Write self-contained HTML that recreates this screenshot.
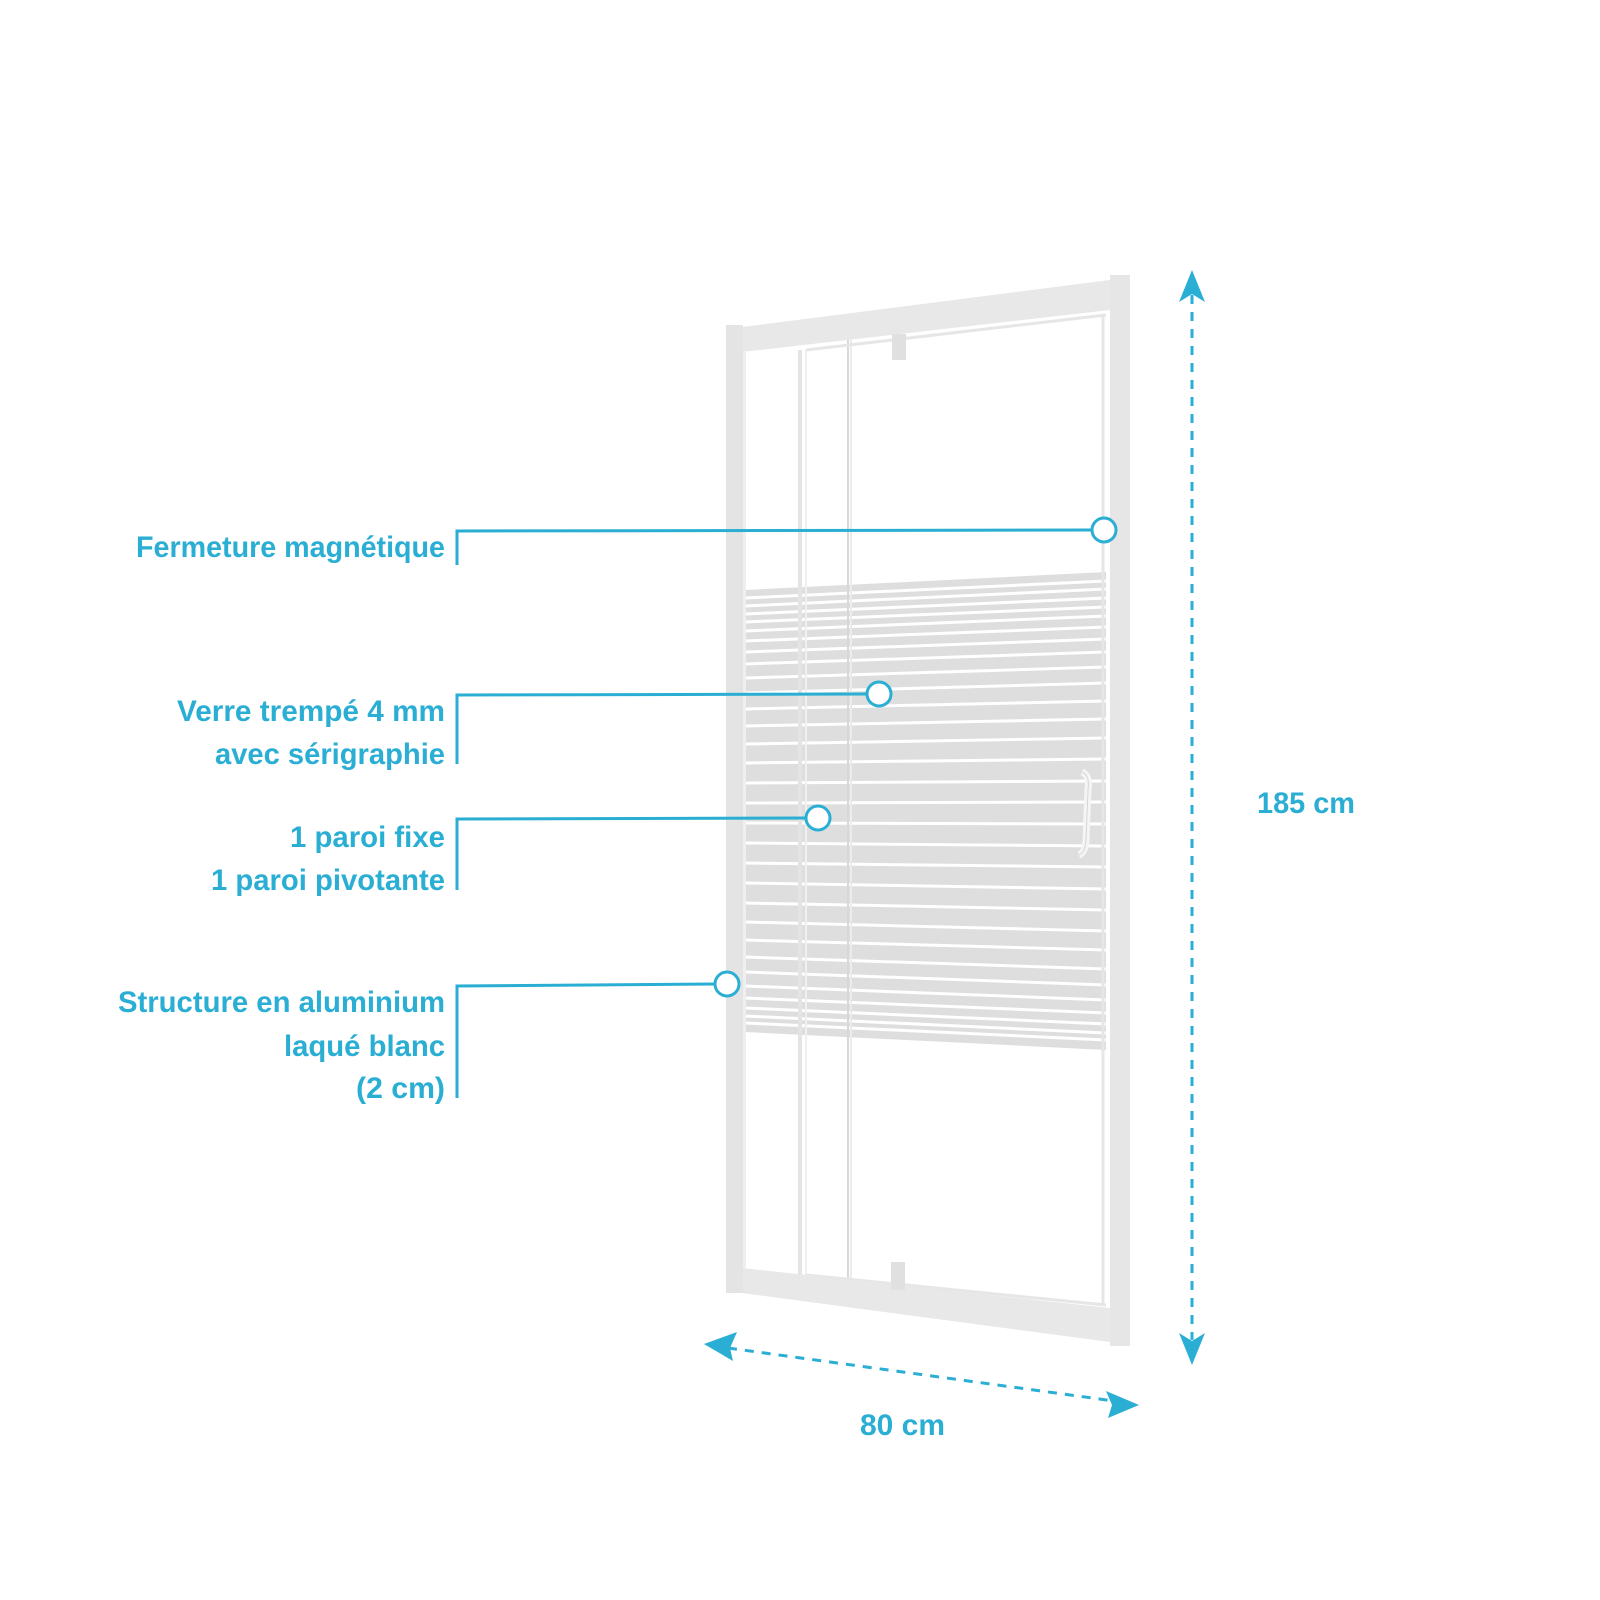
<!DOCTYPE html>
<html><head><meta charset="utf-8"><style>
html,body{margin:0;padding:0;background:#fff;}
svg{display:block;}
text{font-family:"Liberation Sans Narrow","Liberation Sans",sans-serif;fill:#2aaed3;font-size:30px;font-weight:bold;}
</style></head><body>
<svg width="1600" height="1600" viewBox="0 0 1600 1600" xmlns="http://www.w3.org/2000/svg">
<!-- glass band -->
<polygon points="745,590 1106,572 1106,1050 745,1032" fill="#dedede"/>
<g stroke="#fff" stroke-width="3">
<line x1="745" y1="598" x2="1106" y2="581"/><line x1="745" y1="606" x2="1106" y2="589"/>
<line x1="745" y1="614" x2="1106" y2="598"/><line x1="745" y1="622" x2="1106" y2="607"/>
<line x1="745" y1="631" x2="1106" y2="616"/><line x1="745" y1="641" x2="1106" y2="627"/>
<line x1="745" y1="652" x2="1106" y2="639"/><line x1="745" y1="664" x2="1106" y2="652"/>
<line x1="745" y1="678" x2="1106" y2="667"/><line x1="745" y1="693" x2="1106" y2="683"/>
<line x1="745" y1="709" x2="1106" y2="701"/><line x1="745" y1="726" x2="1106" y2="719"/>
<line x1="745" y1="744" x2="1106" y2="738"/><line x1="745" y1="763" x2="1106" y2="759"/>
<line x1="745" y1="783" x2="1106" y2="781"/><line x1="745" y1="803" x2="1106" y2="802"/>
<line x1="745" y1="823" x2="1106" y2="824"/><line x1="745" y1="843" x2="1106" y2="846"/>
<line x1="745" y1="863" x2="1106" y2="867"/><line x1="745" y1="883" x2="1106" y2="889"/>
<line x1="745" y1="903" x2="1106" y2="910"/><line x1="745" y1="922" x2="1106" y2="931"/>
<line x1="745" y1="940" x2="1106" y2="950"/><line x1="745" y1="957" x2="1106" y2="969"/>
<line x1="745" y1="972" x2="1106" y2="985"/><line x1="745" y1="986" x2="1106" y2="1000"/>
<line x1="745" y1="998" x2="1106" y2="1013"/><line x1="745" y1="1008" x2="1106" y2="1024"/>
<line x1="745" y1="1016" x2="1106" y2="1033"/><line x1="745" y1="1023" x2="1106" y2="1040"/>
</g>
<!-- inner panel lines -->
<line x1="800" y1="350" x2="800" y2="1285" stroke="#e4e4e4" stroke-width="4"/>
<line x1="806" y1="350" x2="806" y2="1285" stroke="#f0f0f0" stroke-width="2"/>
<line x1="848" y1="335" x2="848" y2="1295" stroke="#d8d8d8" stroke-width="2"/>
<line x1="851" y1="335" x2="851" y2="1295" stroke="#ececec" stroke-width="2"/>
<line x1="806" y1="350" x2="1106" y2="315" stroke="#e6e6e6" stroke-width="3"/>
<line x1="806" y1="1275" x2="1106" y2="1305" stroke="#e6e6e6" stroke-width="3"/>
<line x1="1103" y1="315" x2="1103" y2="1305" stroke="#e6e6e6" stroke-width="3"/>
<!-- frame -->
<polygon points="742,327 1110,280 1110,310 742,352" fill="#e8e8e8"/>
<polygon points="742,1268 1110,1308 1110,1342 742,1293" fill="#e8e8e8"/>
<rect x="726" y="325" width="17" height="968" fill="#e4e4e4"/>
<rect x="743" y="352" width="3" height="916" fill="#efefef"/>
<rect x="1110" y="275" width="20" height="1071" fill="#e6e6e6"/>
<!-- hinges -->
<rect x="892" y="334" width="14" height="26" fill="#e0e0e0"/>
<rect x="891" y="1262" width="14" height="28" fill="#e0e0e0"/>
<!-- handle -->
<path d="M1082,772 Q1090,775 1088,790 L1086,840 Q1085,853 1079,855" fill="none" stroke="#f5f5f5" stroke-width="7"/>
<path d="M1082,772 Q1090,775 1088,790 L1086,840 Q1085,853 1079,855" fill="none" stroke="#d6d6d6" stroke-width="1"/>
<!-- callouts -->
<g fill="none" stroke="#2aaed3" stroke-width="3">
<polyline points="457,565 457,531 1092,530"/>
<polyline points="457,764 457,695 867,694"/>
<polyline points="457,890 457,819 806,818"/>
<polyline points="457,1098 457,986 714,984"/>
</g>
<g fill="#fff" stroke="#2aaed3" stroke-width="3">
<circle cx="1104" cy="530" r="12"/>
<circle cx="879" cy="694" r="12"/>
<circle cx="818" cy="818" r="12"/>
<circle cx="727" cy="984" r="12"/>
</g>
<g text-anchor="end">
<text x="445" y="557" textLength="309" lengthAdjust="spacingAndGlyphs">Fermeture magnétique</text>
<text x="445" y="721" textLength="268" lengthAdjust="spacingAndGlyphs">Verre trempé 4 mm</text>
<text x="445" y="764" textLength="230" lengthAdjust="spacingAndGlyphs">avec sérigraphie</text>
<text x="445" y="847" textLength="155" lengthAdjust="spacingAndGlyphs">1 paroi fixe</text>
<text x="445" y="890" textLength="234" lengthAdjust="spacingAndGlyphs">1 paroi pivotante</text>
<text x="445" y="1012" textLength="327" lengthAdjust="spacingAndGlyphs">Structure en aluminium</text>
<text x="445" y="1056" textLength="161" lengthAdjust="spacingAndGlyphs">laqué blanc</text>
<text x="445" y="1098" textLength="89" lengthAdjust="spacingAndGlyphs">(2 cm)</text>
</g>
<text x="1257" y="813" textLength="98" lengthAdjust="spacingAndGlyphs">185 cm</text>
<text x="860" y="1435" textLength="85" lengthAdjust="spacingAndGlyphs">80 cm</text>
<!-- dimension arrows -->
<line x1="1192" y1="295" x2="1192" y2="1340" stroke="#2aaed3" stroke-width="3" stroke-dasharray="9,8"/>
<polygon points="1192,270 1205,302 1192,294 1179,302" fill="#2aaed3"/>
<polygon points="1192,1365 1205,1333 1192,1341 1179,1333" fill="#2aaed3"/>
<line x1="728" y1="1348" x2="1114" y2="1401" stroke="#2aaed3" stroke-width="3" stroke-dasharray="9,8"/>
<polygon points="704,1344 737,1332 730,1348 733,1361" fill="#2aaed3"/>
<polygon points="1139,1405 1106,1391 1112,1405 1108,1418" fill="#2aaed3"/>
</svg>
</body></html>
